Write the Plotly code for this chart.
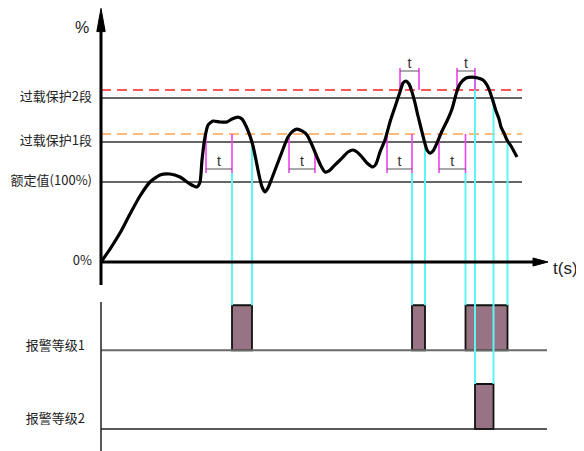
import plotly.graph_objects as go

# ---------------- data ----------------
# load curve: time (s) vs load (%)
curve_t = [0, 0.9, 1.9, 2.9, 3.9, 4.9, 5.9, 6.9, 7.9, 8.9, 9.6, 9.9, 10.1, 10.4, 10.7, 11.2,
           11.9, 12.6, 13.1, 13.7, 14.1, 14.5, 14.9, 15.2, 15.5, 15.8, 16.1, 16.4, 16.7, 17.1,
           17.9, 18.7, 19.2, 19.6, 20.1, 20.6, 21.1, 21.6, 22.0, 22.4, 22.8, 23.2, 23.7, 24.2,
           24.7, 25.2, 25.6, 26.1, 26.6, 27.2, 27.5, 27.9, 28.4, 28.9, 29.4, 29.9, 30.2, 30.5,
           30.8, 31.1, 31.4, 31.7, 32.0, 32.3, 32.6, 32.9, 33.2, 33.6, 34.1, 34.6, 35.1, 35.4,
           35.6, 35.9, 36.5, 37.1, 37.7, 38.2, 38.6, 38.9, 39.2, 39.5, 39.8, 40.0, 40.3, 40.6,
           41.0, 41.6]
curve_pct = [0, 16.2, 36.2, 60.0, 82.5, 100.0, 108.8, 110.0, 106.2, 97.5, 93.8, 100.0, 127.5,
             156.2, 171.2, 176.2, 175.0, 175.0, 178.8, 181.2, 178.8, 170.0, 157.5, 145.0, 127.5,
             108.8, 93.8, 87.5, 92.5, 105.0, 131.2, 156.2, 163.8, 166.2, 163.8, 158.8, 146.2,
             131.2, 120.0, 112.5, 113.8, 118.8, 125.0, 131.2, 137.5, 140.0, 137.5, 131.2, 123.8,
             118.8, 122.5, 137.5, 152.5, 175.0, 193.8, 212.5, 223.8, 226.2, 222.5, 212.5, 198.8,
             182.5, 167.5, 152.5, 140.0, 136.2, 138.8, 148.8, 163.8, 176.2, 191.2, 205.0, 213.8,
             222.5, 230.0, 231.2, 230.0, 227.5, 221.2, 212.5, 201.2, 188.8, 178.8, 168.8, 161.2,
             152.5, 145.0, 131.2]

# reference levels (%)
level_labels = ["过载保护2段", "过载保护1段", "额定值(100%)", "0%"]
level_values = [205, 150, 100, 0]
reset_levels = [205, 150, 100]          # solid lines
trip_levels = [215, 160]                # dashed lines (stage 2, stage 1)

# stage-1 delay windows t
d1_start = [10.5, 18.8, 28.6, 33.8]
d1_end = [13.1, 21.4, 31.1, 36.45]
d1_end_top = [160, 135, 160, 160]
# stage-2 delay windows t
d2_start = [29.9, 35.6]
d2_end = [31.8, 37.4]

# alarm intervals
alarm1_on = [13.1, 31.1, 36.45]
alarm1_off = [15.1, 32.4, 40.65]
alarm2_on = [37.4]
alarm2_off = [39.25]
alarm1_on_from = [111.25, 111.25, 111.25]
alarm1_off_from = [150, 150, 150]
alarm2_on_from = [230]
alarm2_off_from = [205]
alarm_labels = ["报警等级1", "报警等级2"]

# ---------------- layout constants ----------------
# the page body has an 8px margin, so the figure is 8px smaller and ranges start 8px in
W, H = 576, 443
TOP_DOM = [161 / 443, 1]
BOT_DOM = [0, 161 / 443]
X_RANGE = [-9.3, 48.3]
Y_RANGE = [-35, 317.5]
Y2_RANGE = [-0.4889, 3.0889]
ROW_BASE = [1.75, 0.0]      # baselines of alarm rows in lower panel
D1_BOTTOM, D1_LINE = 111.25, 116.25
D2_TOP, D2_BOTTOM, D2_LINE = 242.5, 215, 238.75
CJK = "Noto Sans CJK SC"
CYAN = "#5ff5f5"
MAGENTA = "#f040f0"

fig = go.Figure()


def segs(xs_pairs):
    xs, ys = [], []
    for (x0, y0, x1, y1) in xs_pairs:
        xs += [x0, x1, None]
        ys += [y0, y1, None]
    return xs, ys


def add_line(pairs, color, width, dash="solid", xa="x", ya="y"):
    xs, ys = segs(pairs)
    fig.add_trace(go.Scatter(x=xs, y=ys, mode="lines", xaxis=xa, yaxis=ya,
                             line=dict(color=color, width=width, dash=dash),
                             hoverinfo="skip", showlegend=False))


# --- lower panel: bars first ---
for i, (ons, offs) in enumerate([(alarm1_on, alarm1_off), (alarm2_on, alarm2_off)]):
    fig.add_trace(go.Bar(
        x=[(a + b) / 2 for a, b in zip(ons, offs)],
        y=[1] * len(ons), base=[ROW_BASE[i]] * len(ons),
        width=[b - a for a, b in zip(ons, offs)],
        marker=dict(color="#977383", line=dict(color="#111", width=1.8)),
        xaxis="x2", yaxis="y2", hoverinfo="skip", showlegend=False))

# row baselines
add_line([(0, ROW_BASE[0], 44.6, ROW_BASE[0])], "#6a6a6a", 1.8, xa="x2", ya="y2")
add_line([(0, ROW_BASE[1], 44.6, ROW_BASE[1])], "#222", 1.5, xa="x2", ya="y2")
# lower vertical axis
add_line([(0, 2.82, 0, Y2_RANGE[0] - 0.1)], "#222", 1.5, xa="x2", ya="y2")

# --- upper panel: reference lines ---
add_line([(0, v, 42.1, v) for v in reset_levels], "#333", 1.4)
add_line([(0, trip_levels[0], 42.1, trip_levels[0])], "#ff5a5a", 1.8, dash="10px,6px")
add_line([(0, trip_levels[1], 42.1, trip_levels[1])], "#ffb878", 2.2, dash="10px,6px")

# cyan alarm edges (upper part and lower part)
cy_top, cy_bot = [], []
for t, y0 in zip(alarm1_on + alarm1_off, alarm1_on_from + alarm1_off_from):
    cy_top.append((t, y0, t, Y_RANGE[0] - 5))
    cy_bot.append((t, Y2_RANGE[1] + 0.1, t, ROW_BASE[0] + 1))
for t, y0 in zip(alarm2_on + alarm2_off, alarm2_on_from + alarm2_off_from):
    cy_top.append((t, y0, t, Y_RANGE[0] - 5))
    cy_bot.append((t, Y2_RANGE[1] + 0.1, t, ROW_BASE[1] + 1))
add_line(cy_top, CYAN, 2)
add_line(cy_bot, CYAN, 2, xa="x2", ya="y2")

# magenta delay markers
mag = []
for s, e, et in zip(d1_start, d1_end, d1_end_top):
    mag.append((s, trip_levels[1], s, D1_BOTTOM))
    mag.append((e, et, e, D1_BOTTOM))
for s, e in zip(d2_start, d2_end):
    mag.append((s, D2_TOP, s, D2_BOTTOM))
    mag.append((e, D2_TOP, e, D2_BOTTOM))
add_line(mag, MAGENTA, 1.6)
# horizontal delay lines
hl = [(s, D1_LINE, e, D1_LINE) for s, e in zip(d1_start, d1_end)]
hl += [(s, D2_LINE, e, D2_LINE) for s, e in zip(d2_start, d2_end)]
add_line(hl, "#555", 1)
fig.add_trace(go.Scatter(
    x=[(s + e) / 2 for s, e in zip(d1_start + d2_start, d1_end + d2_end)],
    y=[D1_LINE] * len(d1_start) + [D2_LINE] * len(d2_start),
    mode="text", text=["t"] * (len(d1_start) + len(d2_start)),
    textposition="top center", textfont=dict(family="Liberation Sans", size=14, color="#333"),
    cliponaxis=False, hoverinfo="skip", showlegend=False))

# the load curve
fig.add_trace(go.Scatter(x=curve_t, y=curve_pct, mode="lines",
                         line=dict(color="black", width=3.2, shape="spline", smoothing=0.6),
                         hoverinfo="skip", showlegend=False))

# axes with arrows
add_line([(0, -28.75, 0, 292)], "black", 3)
add_line([(0, 0, 43.5, 0)], "black", 3)
fig.add_trace(go.Scatter(x=[-0.42, 0, 0.42, -0.42], y=[288, 317, 288, 288],
                         mode="lines", fill="toself", fillcolor="black",
                         line=dict(color="black", width=1), hoverinfo="skip", showlegend=False))
fig.add_trace(go.Scatter(x=[43.2, 44.7, 43.2, 43.2], y=[5, 0, -5, 5],
                         mode="lines", fill="toself", fillcolor="black",
                         line=dict(color="black", width=1), hoverinfo="skip", showlegend=False))

# labels
fig.add_trace(go.Scatter(x=[-0.9] * len(level_values), y=level_values, mode="text",
                         text=level_labels, textposition="middle left",
                         textfont=dict(family=CJK, size=13, color="#222"),
                         cliponaxis=False, hoverinfo="skip", showlegend=False))
fig.add_trace(go.Scatter(x=[-1.9], y=[291], mode="text", text=["%"],
                         textfont=dict(family="Liberation Sans", size=16, color="#222"),
                         cliponaxis=False, hoverinfo="skip", showlegend=False))
fig.add_trace(go.Scatter(x=[45.2], y=[-10], mode="text", text=["t(s)"],
                         textposition="middle right",
                         textfont=dict(family="Liberation Sans", size=17, color="#222"),
                         cliponaxis=False, hoverinfo="skip", showlegend=False))
fig.add_trace(go.Scatter(x=[-1.6, -1.6], y=[1.822, 0.2], mode="text", text=alarm_labels,
                         textposition="middle left", xaxis="x2", yaxis="y2",
                         textfont=dict(family=CJK, size=13, color="#222"),
                         cliponaxis=False, hoverinfo="skip", showlegend=False))

ax = dict(visible=False, showgrid=False, zeroline=False, fixedrange=True)
fig.update_layout(
    width=W, height=H, margin=dict(l=0, r=0, t=0, b=0),
    paper_bgcolor="white", plot_bgcolor="white", showlegend=False, barmode="overlay",
    xaxis=dict(ax, range=X_RANGE, domain=[0, 1], anchor="y"),
    yaxis=dict(ax, range=Y_RANGE, domain=TOP_DOM, anchor="x"),
    xaxis2=dict(ax, range=X_RANGE, domain=[0, 1], anchor="y2", matches="x"),
    yaxis2=dict(ax, range=Y2_RANGE, domain=BOT_DOM, anchor="x2"),
)

fig.write_html("out.html")
